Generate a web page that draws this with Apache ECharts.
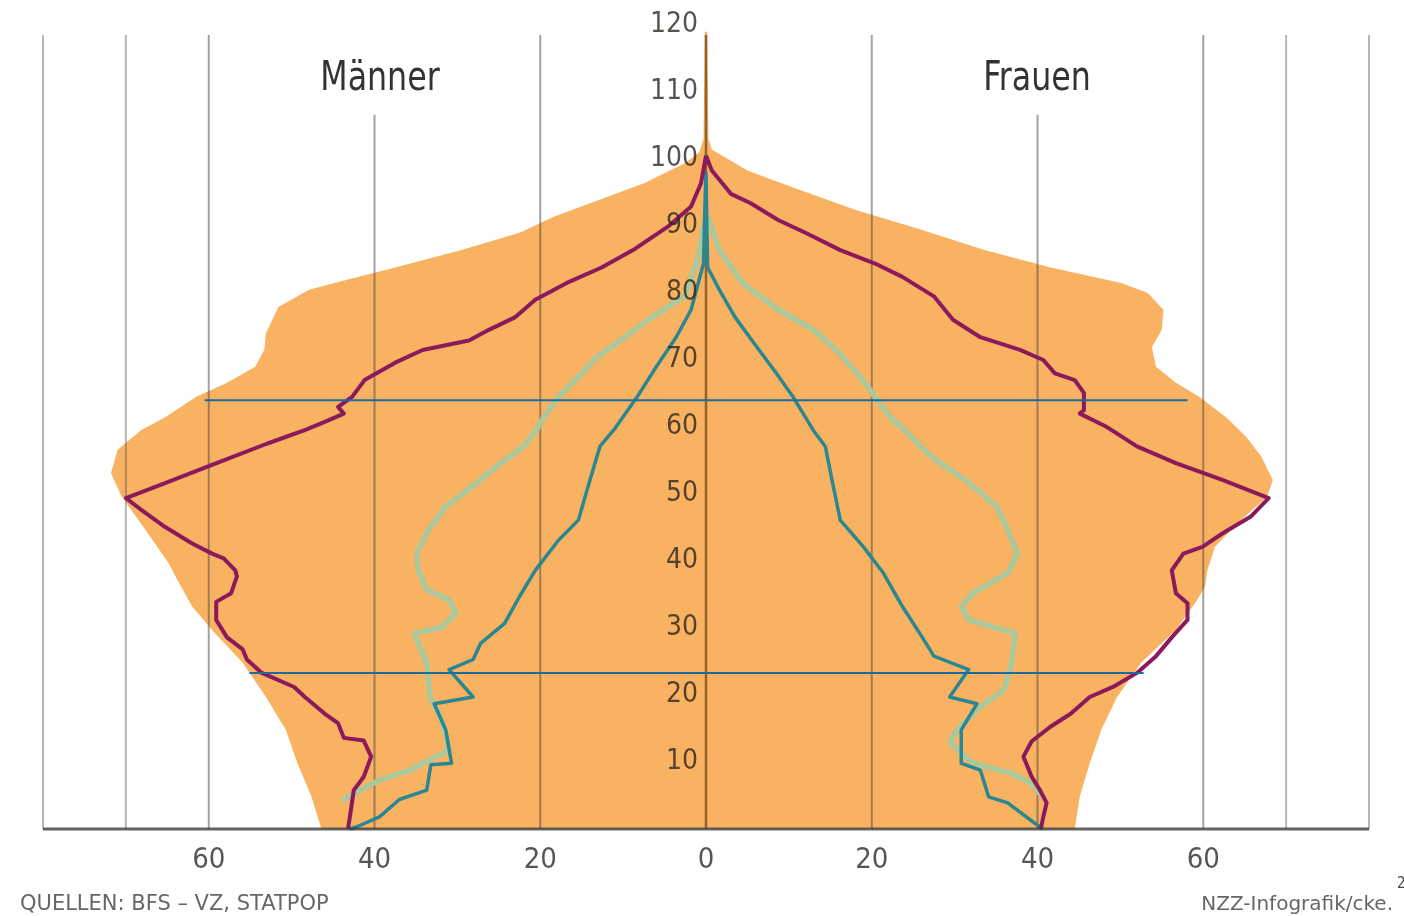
<!DOCTYPE html>
<html>
<head>
<meta charset="utf-8">
<script src="https://cdn.jsdelivr.net/npm/echarts@6/dist/echarts.min.js"></script>
<style>
  html, body { margin: 0; padding: 0; background: #fff; }
  #chart { width: 1404px; height: 916px; }
</style>
</head>
<body>
<div id="chart"></div>
<script>
// [Alter, Tausend Personen] – Männer negativ, Frauen positiv
const menNow = [[0,-46.4],[4.8,-47.6],[9.8,-49.3],[14.8,-50.7],[19.7,-53.1],[24.8,-55.9],[29.7,-59.6],[33.2,-62.0],[37.2,-63.8],[39.6,-64.8],[44.6,-67.6],[49.6,-70.5],[53.1,-71.8],[56.6,-71.0],[59.6,-68.1],[61.4,-65.3],[64.5,-61.5],[66.6,-57.8],[69.0,-54.4],[71.5,-53.3],[74.0,-53.1],[77.9,-51.6],[80.5,-47.9],[82.0,-43.2],[83.8,-37.5],[86.4,-29.5],[89.0,-22.5],[91.4,-18.3],[96.4,-7.4],[99.4,-2.5],[101,-0.8],[103,-0.3],[119,-0.15]]
const womenNow = [[0,44.5],[4.8,45.1],[9.8,46.3],[14.8,47.7],[19.7,49.6],[24.8,52.5],[29.7,56.7],[33.7,59.0],[36.1,60.2],[38.6,60.5],[42.1,61.4],[45.7,64.2],[49.6,67.7],[52.1,68.4],[55.6,67.0],[58.5,65.2],[61.4,62.8],[64.5,59.5],[66.6,56.7],[69.0,54.3],[71.9,53.8],[74.5,55.0],[77.5,55.2],[80.0,53.3],[81.5,50.1],[83.8,41.6],[86.4,33.6],[89.4,26.1],[92.4,18.1],[95.3,11.5],[98.3,5.0],[101.4,0.7],[103,0.3],[119,0.15]]

const menPurple = [[0,-43.2],[2.4,-42.9],[5.8,-42.5],[7.8,-41.3],[10.8,-40.4],[13.2,-41.3],[13.6,-43.7],[15.8,-44.4],[17.2,-46.0],[19.7,-48.4],[21.2,-49.7],[23.3,-53.6],[25.3,-55.4],[26.8,-55.9],[28.6,-57.8],[31.2,-59.1],[33.9,-59.1],[35.2,-57.3],[37.7,-56.6],[38.6,-56.8],[40.4,-58.2],[41.1,-59.6],[42.6,-62.0],[45.1,-65.3],[47.6,-68.1],[49.4,-70.0],[51.5,-65.5],[54.5,-59.3],[57.5,-53.0],[59.5,-48.5],[60.5,-46.5],[62.0,-43.7],[63.0,-44.4],[64.5,-42.7],[67.0,-41.2],[69.6,-37.5],[71.5,-34.2],[72.9,-28.6],[74.5,-26.2],[76.4,-23.0],[79.0,-20.6],[81.5,-16.8],[83.8,-12.6],[86.4,-8.8],[89.9,-4.6],[92.9,-1.8],[96.4,-0.6],[100.5,0]]
const womenPurple = [[0,40.4],[1.8,40.7],[3.9,41.1],[5.8,40.3],[7.8,39.3],[10.8,38.3],[13.1,39.3],[15.3,41.6],[17.2,44.0],[19.7,46.3],[21.2,49.1],[23.3,52.0],[25.8,54.3],[28.6,56.2],[31.2,58.1],[33.7,58.1],[35.2,56.7],[38.6,56.2],[41.1,57.6],[42.1,59.9],[44.1,62.3],[46.6,65.7],[49.4,67.9],[52.1,62.3],[54.6,56.7],[57.1,52.0],[59.5,49.0],[60.1,48.2],[62.0,45.1],[62.5,45.6],[65.1,45.6],[67.0,44.5],[68.0,42.1],[70.0,40.7],[71.5,37.9],[73.4,33.1],[76.0,29.8],[79.5,27.5],[82.4,23.7],[84.4,20.4],[86.4,16.2],[89.0,12.0],[90.9,8.7],[93.4,5.4],[94.8,3.0],[98.3,0.7],[100.5,0]]

const menGreen = [[4.2,-43.9],[4.8,-43.2],[7.3,-39.4],[8.8,-35.7],[11.8,-31.0],[16.3,-31.9],[19.7,-33.3],[24.8,-33.7],[29.2,-35.2],[30.1,-31.9],[32.2,-30.2],[34.2,-31.0],[35.7,-33.7],[38.6,-34.7],[41.1,-34.9],[44.6,-33.5],[48.1,-31.4],[51.6,-27.7],[54.6,-24.8],[57.1,-22.0],[59.5,-20.5],[61.4,-19.6],[64.5,-17.8],[67.5,-15.4],[70.5,-13.1],[73.4,-9.8],[76.4,-6.5],[79.5,-2.6],[85,-1.0],[90,-0.3]]
const womenGreen = [[4.8,40.6],[6.8,39.3],[8.3,36.9],[9.8,32.2],[12.9,29.4],[14.8,30.3],[18.2,33.1],[20.7,35.9],[24.8,36.9],[29.2,37.3],[31.2,31.7],[33.2,30.8],[35.2,32.2],[38.2,36.4],[41.1,37.6],[44.6,36.4],[48.1,35.1],[52.1,31.3],[55.6,27.1],[59.5,24.0],[61.4,22.3],[64.5,20.4],[67.5,18.6],[71.5,15.7],[74.5,13.0],[77.5,8.7],[81.5,4.4],[86.4,1.6],[91.4,0.2]]

const menTeal = [[0,-43.0],[0.3,-42.2],[1.8,-39.4],[4.4,-37.0],[5.8,-33.7],[9.6,-33.2],[9.8,-30.7],[14.8,-31.4],[18.7,-32.8],[19.7,-28.1],[23.8,-31.0],[25.3,-28.1],[27.7,-27.2],[30.7,-24.3],[34.7,-22.5],[38.6,-20.6],[43.1,-17.8],[46.1,-15.4],[52.1,-14.0],[57.1,-12.8],[59.6,-11.1],[64.5,-8.3],[69.0,-6.0],[73.4,-3.6],[77.5,-1.8],[84.4,-0.3],[90,-0.2],[98,0]]
const womenTeal = [[0,40.6],[3.9,36.4],[4.8,34.1],[8.8,33.1],[9.8,30.8],[14.8,30.8],[18.7,32.7],[19.7,29.4],[23.8,31.7],[25.8,27.5],[28.6,26.1],[33.2,23.7],[38.2,21.4],[42.1,19.0],[46.1,16.2],[52.1,15.2],[57.1,14.4],[59.6,12.9],[64.5,10.5],[68.5,8.2],[72.5,5.8],[76.4,3.5],[80.5,1.6],[83.8,0.2],[90,0.1],[98,0]]

// Referenzlinien: [Alter, von, bis]
const refLines = [[64, -60.5, 58.1], [23.3, -55.1, 52.8]]
// Gitterlinien: [Wert, oberes Ende (Alter)]
const gridLines = [[-80,118.5],[-70,118.5],[-60,118.5],[-40,106.6],[-20,118.5],[20,118.5],[40,106.6],[60,118.5],[70,118.5],[80,118.5]]
const xTicks = [-60, -40, -20, 0, 20, 40, 60]

const FONT = "'DejaVu Sans Condensed', 'Liberation Sans Narrow', sans-serif"
const FONT_WIDE = "'DejaVu Sans', sans-serif"
const flip = arr => arr.map(p => [p[1], p[0]])

function lineSeries(data, color, width, z) {
  return {
    type: 'line', data: flip(data), z: z, symbol: 'none', smooth: false,
    silent: true, animation: false,
    lineStyle: { color: color, width: width, join: 'round' }
  }
}

function segment(a, b, stroke, width) {
  return {
    type: 'line', shape: { x1: a[0], y1: a[1], x2: b[0], y2: b[1] },
    style: { stroke: stroke, lineWidth: width }
  }
}

const GRID = { left: 43, right: 35, top: 25, bottom: 87 }
const chart = echarts.init(document.getElementById('chart'))
const option = {
  animation: false,
  grid: Object.assign({ containLabel: false, outerBoundsMode: 'none' }, GRID),
  xAxis: {
    type: 'value', min: -80, max: 80, interval: 20,
    axisLine: { show: false, onZero: false }, axisTick: { show: false }, splitLine: { show: false },
    axisLabel: {
      margin: 17, fontSize: 29, fontFamily: FONT, color: 'rgba(55,55,55,0.85)',
      formatter: v => xTicks.indexOf(v) >= 0 ? String(Math.abs(v)) : ''
    }
  },
  yAxis: {
    type: 'value', min: 0, max: 120, interval: 10, position: 'left',
    offset: -(1404 - GRID.left - GRID.right) / 2,
    axisLine: { show: false, onZero: false },
    axisTick: { show: false }, splitLine: { show: false },
    axisLabel: {
      margin: 8, fontSize: 28, fontFamily: FONT, color: 'rgba(40,35,30,0.78)',
      formatter: v => v === 0 ? '' : String(v)
    },
    z: 10
  },
  series: [
    {
      // Bevölkerungsfläche (heute)
      type: 'custom', z: 1, silent: true, data: [[0, 0]],
      renderItem: function (params, api) {
        const pts = menNow.map(p => api.coord([p[1], p[0]]))
          .concat(womenNow.slice().reverse().map(p => api.coord([p[1], p[0]])))
        return { type: 'polygon', shape: { points: pts }, style: { fill: '#f8b262' } }
      }
    },
    {
      // Gitterlinien
      type: 'custom', z: 2, silent: true, data: gridLines,
      renderItem: function (params, api) {
        const outer = Math.abs(api.value(0)) >= 70
        return segment(api.coord([api.value(0), 0]), api.coord([api.value(0), api.value(1)]),
          outer ? 'rgba(80,80,80,0.42)' : 'rgba(70,70,70,0.5)', 2)
      }
    },
    {
      // Nulllinie
      type: 'custom', z: 3, silent: true, data: [[0, 118.5]],
      renderItem: function (params, api) {
        return segment(api.coord([0, 0]), api.coord([0, api.value(1)]), 'rgba(120,78,30,0.8)', 2.5)
      }
    },
    lineSeries(menGreen, '#aac89b', 5.5, 4),
    lineSeries(womenGreen, '#aac89b', 5.5, 4),
    lineSeries(menTeal, '#2a8791', 3.5, 5),
    lineSeries(womenTeal, '#2a8791', 3.5, 5),
    lineSeries(menPurple, '#8a1a5c', 4, 6),
    lineSeries(womenPurple, '#8a1a5c', 4, 6),
    {
      // Referenzlinien
      type: 'custom', z: 7, silent: true, data: refLines,
      renderItem: function (params, api) {
        return segment(api.coord([api.value(1), api.value(0)]), api.coord([api.value(2), api.value(0)]), '#1a6b9e', 2)
      }
    },
    {
      // Grundlinie
      type: 'custom', z: 8, silent: true, data: [[-80, 80]],
      renderItem: function (params, api) {
        return segment(api.coord([api.value(0), 0]), api.coord([api.value(1), 0]), 'rgba(60,60,60,0.8)', 3)
      }
    }
  ],
  graphic: [
    { type: 'text', x: 380, y: 80, scaleX: 0.88, style: { text: 'Männer', font: '40px ' + FONT, fill: '#333', align: 'center', verticalAlign: 'middle' } },
    { type: 'text', x: 1037, y: 80, scaleX: 0.88, style: { text: 'Frauen', font: '40px ' + FONT, fill: '#333', align: 'center', verticalAlign: 'middle' } },
    { type: 'text', x: 20, y: 905, style: { text: 'QUELLEN: BFS – VZ, STATPOP', font: '21px ' + FONT_WIDE, fill: '#666', align: 'left', verticalAlign: 'middle' } },
    { type: 'text', x: 1393, y: 905, style: { text: 'NZZ-Infografik/cke.', font: '20px ' + FONT_WIDE, fill: '#666', align: 'right', verticalAlign: 'middle' } },
    { type: 'text', x: 1397, y: 884, style: { text: '2', font: '15px ' + FONT, fill: '#444', align: 'left', verticalAlign: 'middle' } }
  ]
}
chart.setOption(option)
window.addEventListener('resize', function () { chart.resize() })
</script>
</body>
</html>
